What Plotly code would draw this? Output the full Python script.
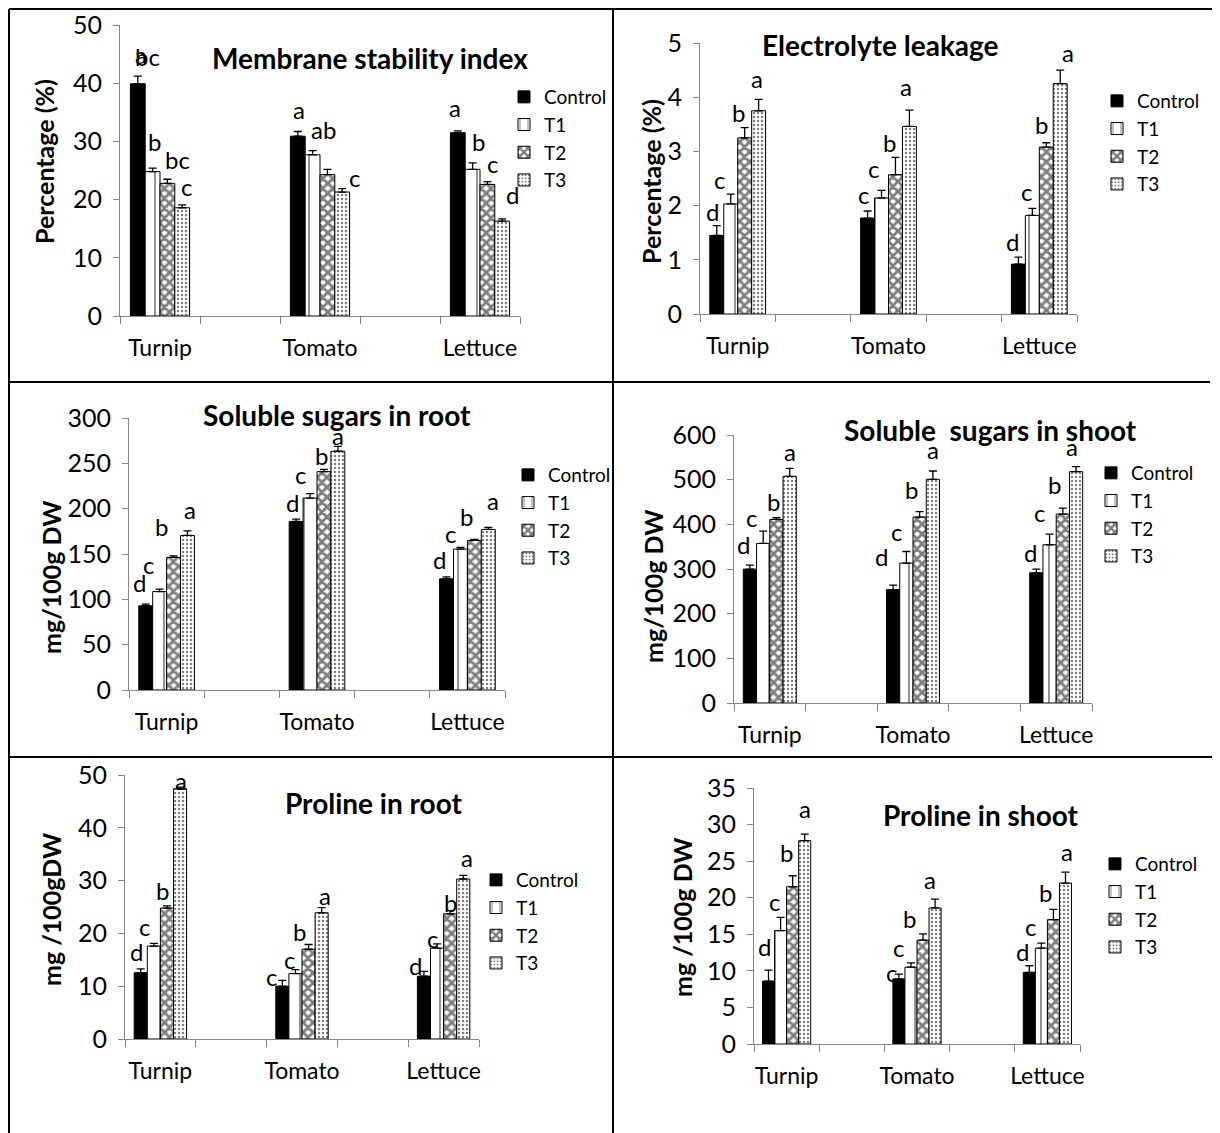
import plotly.graph_objects as go

PAGE_W, PAGE_H = 1220, 1133
OFF = 8  # the page body margin shifts the figure by this many pixels
W, H = PAGE_W - OFF, PAGE_H - OFF
FONT = "Lato"

categories = ["Turnip", "Tomato", "Lettuce"]
series = ["Control", "T1", "T2", "T3"]

# rows = series (Control, T1, T2, T3); columns = categories (Turnip, Tomato, Lettuce)
msi_mean = [[39.9, 30.9, 31.5], [24.8, 27.7, 25.2], [22.8, 24.3, 22.6], [18.6, 21.3, 16.3]]
msi_err = [[1.3, 0.8, 0.3], [0.6, 0.7, 1.1], [0.7, 0.9, 0.5], [0.5, 0.6, 0.4]]
msi_letters = [["a", "a", "a"], ["b", "ab", "b"], ["bc", "", "c"], ["c", "c", "d"]]

el_mean = [[1.45, 1.77, 0.92], [2.03, 2.14, 1.82], [3.25, 2.57, 3.08], [3.75, 3.46, 4.25]]
el_err = [[0.18, 0.13, 0.13], [0.18, 0.14, 0.13], [0.19, 0.32, 0.08], [0.21, 0.30, 0.25]]
el_letters = [["d", "c", "d"], ["c", "c", "c"], ["b", "b", "b"], ["a", "a", "a"]]

ssr_mean = [[92.8, 185.9, 122.6], [108.6, 211.7, 155.4], [146.2, 240.8, 165.0], [170.5, 263.3, 177.1]]
ssr_err = [[2.0, 2.6, 2.2], [2.6, 4.8, 1.8], [1.8, 2.6, 1.1], [5.0, 5.5, 2.2]]
ssr_letters = [["d", "d", "d"], ["c", "c", "c"], ["b", "b", "b"], ["a", "a", "a"]]

sss_mean = [[299.7, 254.0, 291.5], [357.2, 313.2, 354.3], [411.0, 416.3, 423.0], [507.5, 500.7, 518.0]]
sss_err = [[9.0, 9.7, 8.2], [27.6, 26.0, 24.0], [4.0, 12.0, 13.5], [18.0, 18.7, 11.0]]
sss_letters = [["d", "d", "d"], ["c", "c", "c"], ["b", "b", "b"], ["a", "a", "a"]]

pr_mean = [[12.55, 10.0, 11.9], [17.6, 12.4, 17.2], [24.8, 17.0, 23.7], [47.4, 23.9, 30.3]]
pr_err = [[0.75, 1.1, 0.9], [0.5, 0.75, 0.8], [0.4, 0.9, 0.6], [0.3, 1.0, 0.7]]
pr_letters = [["d", "c", "d"], ["c", "c", "c"], ["b", "b", "b"], ["a", "a", "a"]]

ps_mean = [[8.6, 8.9, 9.8], [15.5, 10.5, 13.1], [21.5, 14.2, 17.0], [27.8, 18.6, 22.0]]
ps_err = [[1.5, 0.65, 0.9], [1.8, 0.6, 0.7], [1.5, 0.85, 1.4], [0.9, 1.2, 1.5]]
ps_letters = [["d", "c", "d"], ["c", "c", "c"], ["b", "b", "b"], ["a", "a", "a"]]

titles = ["Membrane stability index", "Electrolyte leakage", "Soluble sugars in root",
          "Soluble  sugars in shoot", "Proline in root", "Proline in shoot"]
ytitles = ["Percentage (%)", "Percentage (%)", "mg/100g DW", "mg/100g DW", "mg /100gDW", "mg /100g DW"]
ymax = [50, 5, 300, 600, 50, 35]
ydtick = [10, 1, 50, 100, 10, 5]

# ---- layout / style (page pixels) ----
BARGAP = 0.26
GROUP = 1 - BARGAP
boxes = [(120, 520, 25, 316), (700, 1077, 43, 314), (129, 505, 418, 690),
         (734, 1092, 435, 703), (125, 479, 775, 1039), (754, 1080, 788, 1044)]
title_pos = [(370, 58), (880, 45), (337, 415), (990, 430), (373, 803), (981, 815)]
ytitle_pos = [(44, 162), (651, 182), (51, 577), (653, 586), (51, 909), (682, 917)]
legend_pos = [(525, 95), (1118, 99), (529, 473), (1112, 471), (497, 878), (1116, 862)]
label_dx = [
    [[3, 1, -3], [2, 11, 6], [10, 0, 5], [4, 12, 10]],
    [[-4, -4, -6], [-11, -8, -6], [-6, -6, -5], [-2, -3, 8]],
    [[-6, -4, -7], [-11, -10, -10], [-12, -2, -8], [3, 0, 5]],
    [[-6, -12, -6], [-12, -10, -10], [-3, -8, -8], [0, 0, -4]],
    [[-4, -11, -8], [-9, -6, -5], [-4, -9, 0], [1, 3, 4]],
    [[-4, -7, -7], [-6, -12, -11], [-6, -14, -8], [0, -5, 2]],
]
label_dy = [
    [[11, 12, 13], [16, 11, 11], [9, 0, 8], [8, 1, 14]],
    [[4, 6, 5], [4, 11, 6], [5, 4, 8], [10, 13, 7]],
    [[11, 6, 7], [14, 9, 3], [19, 3, 12], [11, 0, 16]],
    [[10, 18, 6], [3, 9, 11], [6, 12, 13], [6, 11, 10]],
    [[7, -7, -5], [6, 0, -5], [5, 2, -2], [-4, 2, 7]],
    [[13, -9, 4], [5, 5, 6], [13, 5, 6], [15, 9, 10]],
]
extra_labels = [(0, 0, 0, "bc", 10, 9)]  # panel, series, category, text, dx, dy

styles = [
    dict(color="black", line=dict(color="black", width=1)),
    dict(color="white", line=dict(color="black", width=1),
         pattern=dict(shape="|", size=14, solidity=0.12, fgcolor="black", bgcolor="white")),
    dict(color="white", line=dict(color="black", width=1),
         pattern=dict(shape="x", size=7, solidity=0.65, fgcolor="black", bgcolor="white")),
    dict(color="white", line=dict(color="black", width=1),
         pattern=dict(shape=".", size=4, solidity=0.3, fgcolor="black", bgcolor="white")),
]

means = [msi_mean, el_mean, ssr_mean, sss_mean, pr_mean, ps_mean]
errs = [msi_err, el_err, ssr_err, sss_err, pr_err, ps_err]
letters = [msi_letters, el_letters, ssr_letters, sss_letters, pr_letters, ps_letters]

axis_cats = [categories[0], " ", categories[1], "  ", categories[2]]


def px(x):
    return (x - OFF) / W


def py(y):
    return 1 - (y - OFF) / H


fig = go.Figure()
layout = dict(width=W, height=H, margin=dict(l=0, r=0, t=0, b=0, pad=0, autoexpand=False),
              autosize=False,
              paper_bgcolor="white", plot_bgcolor="white",
              barmode="group", bargap=BARGAP, bargroupgap=0,
              font=dict(family=FONT, color="black"))
annotations = []
shapes = []

AXC = "#868686"
for p in range(6):
    n = "" if p == 0 else str(p + 1)
    xa, ya = "x" + n, "y" + n
    lg = "legend" + n
    x0, x1, yt, yb = boxes[p]
    layout["xaxis" + n] = dict(domain=[px(x0), px(x1)], anchor=ya, type="category",
                               categoryorder="array", categoryarray=axis_cats,
                               range=[-0.5, 4.5], tickson="boundaries", ticks="outside",
                               ticklen=7, tickcolor=AXC, showline=True, linecolor=AXC,
                               linewidth=1, showgrid=False, ticklabelstandoff=11,
                               tickangle=0, automargin=False,
                               tickfont=dict(size=23, family=FONT))
    layout["yaxis" + n] = dict(domain=[py(yb), py(yt)], anchor=xa,
                               range=[0, ymax[p]], dtick=ydtick[p], ticks="outside",
                               ticklen=6, tickcolor=AXC, showline=True, linecolor=AXC,
                               linewidth=1, showgrid=False, zeroline=False, automargin=False,
                               ticklabelstandoff=6, tickfont=dict(size=25, family=FONT))
    lx, ly = legend_pos[p]
    layout[lg] = dict(x=px(lx - 21), y=py(ly - 17), xanchor="left", yanchor="top",
                      bgcolor="rgba(0,0,0,0)", font=dict(size=19, family=FONT),
                      tracegroupgap=0)
    for j, s in enumerate(series):
        fig.add_trace(go.Bar(
            x=categories, y=means[p][j], name=s, marker=styles[j],
            xaxis=xa, yaxis=ya, legend=lg, showlegend=True,
            error_y=dict(type="data", array=errs[p][j], arrayminus=[0] * len(categories),
                         symmetric=False, color="black", thickness=1.3, width=4),
        ))
        for c, cat in enumerate(categories):
            t = letters[p][j][c]
            if not t:
                continue
            xi = axis_cats.index(cat) - GROUP / 2 + (j + 0.5) * GROUP / 4
            annotations.append(dict(x=xi, y=means[p][j][c] + errs[p][j][c], xref=xa, yref=ya,
                                    text=t, showarrow=False, xanchor="center", yanchor="bottom",
                                    xshift=label_dx[p][j][c], yshift=label_dy[p][j][c] - 6,
                                    font=dict(size=24, family=FONT)))
    tx, ty = title_pos[p]
    annotations.append(dict(x=px(tx), y=py(ty), xref="paper", yref="paper",
                            text="<b>" + titles[p] + "</b>", showarrow=False,
                            xanchor="center", yanchor="middle",
                            font=dict(size=28, family=FONT)))
    ax_, ay_ = ytitle_pos[p]
    annotations.append(dict(x=px(ax_), y=py(ay_), xref="paper", yref="paper",
                            text="<b>" + ytitles[p] + "</b>", showarrow=False, textangle=-90,
                            xanchor="center", yanchor="middle",
                            font=dict(size=25, family=FONT)))

for (p, j, c, t, dx, dy) in extra_labels:
    n = "" if p == 0 else str(p + 1)
    xi = axis_cats.index(categories[c]) - GROUP / 2 + (j + 0.5) * GROUP / 4
    annotations.append(dict(x=xi, y=means[p][j][c] + errs[p][j][c], xref="x" + n, yref="y" + n,
                            text=t, showarrow=False, xanchor="center", yanchor="bottom",
                            xshift=dx, yshift=dy - 6, font=dict(size=24, family=FONT)))


# table frame lines (page pixels)
def pline(xa0, ya0, xa1, ya1):
    shapes.append(dict(type="line", xref="paper", yref="paper",
                       x0=px(xa0), y0=py(ya0), x1=px(xa1), y1=py(ya1),
                       line=dict(color="black", width=2)))


pline(9, 9, 9, PAGE_H)
pline(613, 9, 613, PAGE_H)
pline(9, 9, PAGE_W, 9)
pline(9, 382, 1210, 382)
pline(9, 757, PAGE_W, 757)

layout["annotations"] = annotations
layout["shapes"] = shapes
fig.update_layout(**layout)
fig.write_html("out.html", config={"displayModeBar": False})
